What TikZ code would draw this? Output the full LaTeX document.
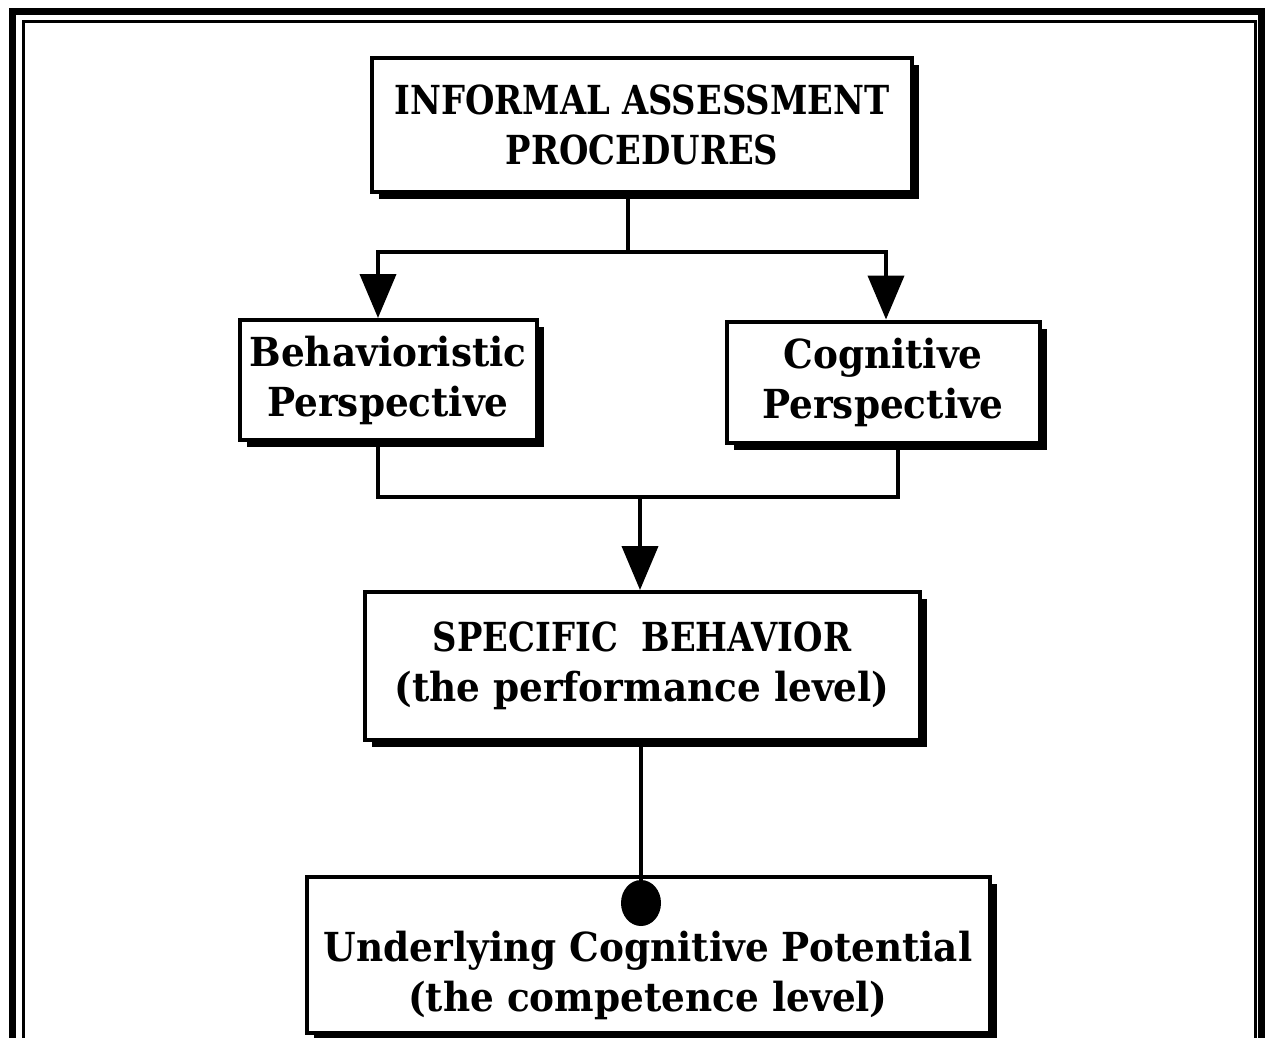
\documentclass[tikz,border=0pt]{standalone}
\usepackage{fontspec}
% capitals run a little narrower than the lower-case lines
\newfontfamily\capsfont[FakeStretch=0.845]{DejaVu Serif}
\newfontfamily\lowerfont[FakeStretch=0.935]{DejaVu Serif}
\usetikzlibrary{arrows.meta,shapes.geometric,shadows}

\tikzset{
  framebox/.style={draw=black, line width=4pt, fill=white, rectangle,
    inner sep=0pt, align=center,
    drop shadow={shadow xshift=7pt, shadow yshift=-7pt, opacity=1, fill=black}},
  boxtext/.style={align=center, inner sep=0pt,
    font=\lowerfont\bfseries\fontsize{40}{50}\selectfont},
  conn/.style={line width=4pt, draw=black},
  arrowconn/.style={conn, -{Triangle[width=36pt,length=44pt]}},
  dotmark/.style={ellipse, fill=black, inner sep=0pt,
    minimum width=40pt, minimum height=46pt},
}
\newcommand\capline[1]{{\capsfont\bfseries #1}}

\begin{document}
\begin{tikzpicture}[x=1pt,y=-1pt]
  \useasboundingbox (0,0) rectangle (1265,1037);
  \fill[white] (0,0) rectangle (1265,1037);

  % double page frame, open at the bottom
  \draw[line width=7pt] (12,1045) -- (12,11) -- (1261,11) -- (1261,1045);
  \draw[line width=3pt] (23,1045) -- (23,21) -- (1255,21) -- (1255,1045);

  % boxes
  \node[framebox, boxtext, minimum width=540pt, minimum height=134pt] (b1) at (642,125)
    {\capline{INFORMAL ASSESSMENT}\\\capline{PROCEDURES}};
  \node[framebox, boxtext, minimum width=297pt, minimum height=120pt] (b2) at (388,380)
    {Behavioristic\\Perspective};
  \node[framebox, boxtext, minimum width=313pt, minimum height=121pt] (b3) at (883,382)
    {Cognitive\\Perspective};
  \node[framebox, boxtext, minimum width=555pt, minimum height=148pt] (b4) at (642,666)
    {\capline{SPECIFIC\ \ BEHAVIOR}\\(the performance level)};
  \node[framebox, minimum width=683pt, minimum height=156pt] (b5) at (648,955) {};
  \node[boxtext] (b5text) at (648,975)
    {Underlying Cognitive Potential\\(the competence level)};

  % branching from the top box to the two perspectives
  \coordinate (split) at (628,252);
  \draw[conn] (b1.south -| split) -- (split);
  \draw[arrowconn] (split) -| ([xshift=-10pt]b2.north);
  \draw[arrowconn] (split) -| ([xshift=3pt]b3.north);

  % merging the two perspectives into the specific behavior
  \coordinate (merge) at (640,497);
  \draw[conn] ([xshift=-10pt]b2.south) |- (merge);
  \draw[conn] ([xshift=15pt]b3.south) |- (merge);
  \draw[arrowconn] (merge) -- (b4.north -| merge);

  % link down to the underlying potential, ending in a dot
  \node[dotmark] (dot) at (641,903) {};
  \draw[conn] (b4.south -| dot) -- (dot.north);
\end{tikzpicture}
\end{document}
